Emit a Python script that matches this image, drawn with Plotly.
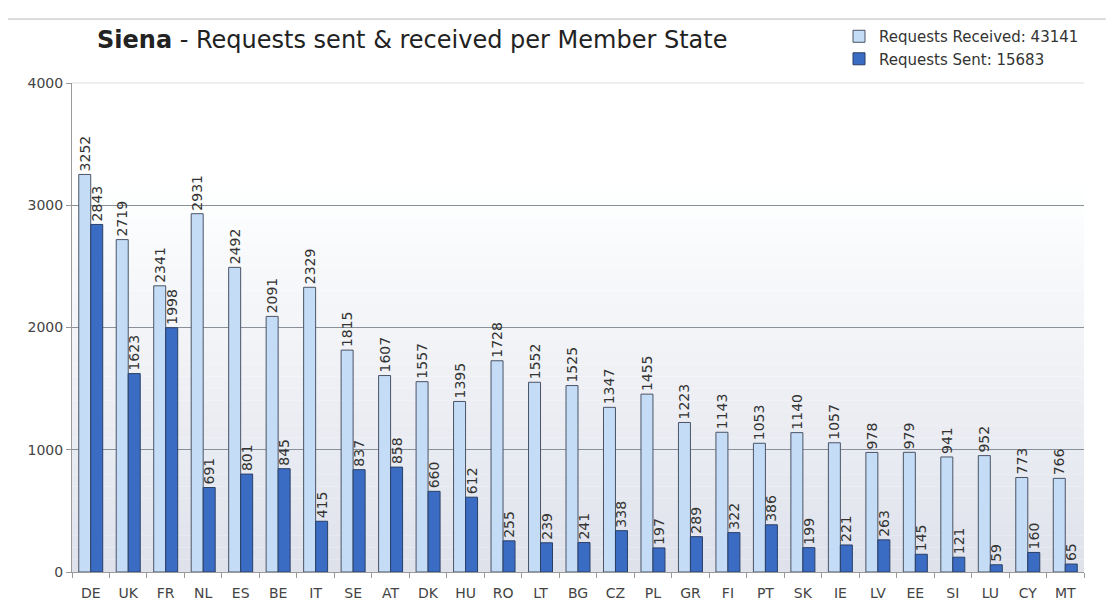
import plotly.graph_objects as go

countries = ["DE", "UK", "FR", "NL", "ES", "BE", "IT", "SE", "AT", "DK", "HU", "RO", "LT", "BG",
             "CZ", "PL", "GR", "FI", "PT", "SK", "IE", "LV", "EE", "SI", "LU", "CY", "MT"]
received = [3252, 2719, 2341, 2931, 2492, 2091, 2329, 1815, 1607, 1557, 1395, 1728, 1552, 1525,
            1347, 1455, 1223, 1143, 1053, 1140, 1057, 978, 979, 941, 952, 773, 766]
sent = [2843, 1623, 1998, 691, 801, 845, 415, 837, 858, 660, 612, 255, 239, 241,
        338, 197, 289, 322, 386, 199, 221, 263, 145, 121, 59, 160, 65]
y_ticks = [0, 1000, 2000, 3000, 4000]

FONT = "DejaVu Sans"

# page offset (body margin) and plot-area geometry, in pixels
OFF = 8
PL, PT, PW, PH = 72, 75, 1012, 497

fig = go.Figure()
fig.add_trace(go.Bar(
    x=countries, y=received, name="Requests Received: 43141",
    marker=dict(color="#c4dcf6", line=dict(color="#4a5466", width=1)),
    text=[str(v) for v in received], textposition="outside", textangle=-90,
    textfont=dict(family=FONT, size=14, color="#333333"), constraintext="none",
    cliponaxis=False,
))
fig.add_trace(go.Bar(
    x=countries, y=sent, name="Requests Sent: 15683",
    marker=dict(color="#3b6cc4", line=dict(color="#2a3f66", width=1)),
    text=[str(v) for v in sent], textposition="outside", textangle=-90,
    textfont=dict(family=FONT, size=14, color="#333333"), constraintext="none",
    cliponaxis=False,
))

# soft gradient background in plot area (white at top -> grey-blue at bottom)
shapes = []
n = 40
for i in range(n):
    y0 = i / n
    y1 = (i + 1) / n
    t = 1 - (y0 + y1) / 2  # 1 at bottom, 0 at top
    k = max(0.0, min(1.0, (t - 0.2) / 0.8))
    r = round(255 - k * (255 - 222))
    g = round(255 - k * (255 - 226))
    b = round(255 - k * (255 - 235))
    shapes.append(dict(type="rect", xref="x domain", yref="y domain", x0=0, x1=1, y0=y0, y1=y1,
                       fillcolor=f"rgb({r},{g},{b})", line=dict(width=0), layer="below"))
# light top gridline
shapes.append(dict(type="line", xref="x domain", yref="y domain", x0=0, x1=1, y0=1, y1=1,
                   line=dict(color="#dddddd", width=1), layer="below"))
# outer frame
shapes.append(dict(type="rect", xref="paper", yref="paper",
                   x0=(7 - PL) / PW, x1=(1110 - PL) / PW,
                   y0=-(620 - PT - PH) / PH, y1=(PT + PH - 10) / PH,
                   line=dict(color="#bbbbbb", width=1), fillcolor="rgba(0,0,0,0)", layer="below"))

fig.update_layout(
    width=1114, height=610,
    margin=dict(l=PL - OFF, r=1114 - (PL + PW - OFF), t=PT - OFF, b=610 - (PT + PH - OFF)),
    paper_bgcolor="white", plot_bgcolor="white",
    barmode="group", bargap=0.36, bargroupgap=0.0,
    shapes=shapes,
    font=dict(family=FONT, color="#444444"),
    title=dict(text="<b>Siena</b> - Requests sent &amp; received per Member State",
               font=dict(family=FONT, size=24, color="#222222"),
               x=(97 - OFF) / 1114, xanchor="left", xref="container",
               y=1 - (40 - OFF) / 610, yanchor="middle", yref="container"),
    legend=dict(x=1.0, xanchor="right", y=1 + (PT - 11) / PH, yanchor="top",
                font=dict(family=FONT, size=15, color="#333333"),
                bgcolor="rgba(0,0,0,0)", itemwidth=30, tracegroupgap=0,
                traceorder="normal"),
    xaxis=dict(showgrid=False, showline=True, linecolor="#999999",
               ticks="outside", ticklen=5, tickcolor="#999999", tickson="boundaries",
               ticklabelstandoff=8,
               tickfont=dict(family=FONT, size=14, color="#444444")),
    yaxis=dict(range=[0, 4000], tickvals=y_ticks, showgrid=True, gridcolor="#8a9099",
               gridwidth=1, showline=True, linecolor="#999999", ticks="outside",
               ticklen=5, tickcolor="#999999", zeroline=False,
               tickfont=dict(family=FONT, size=14, color="#444444")),
)

fig.write_html("out.html")
